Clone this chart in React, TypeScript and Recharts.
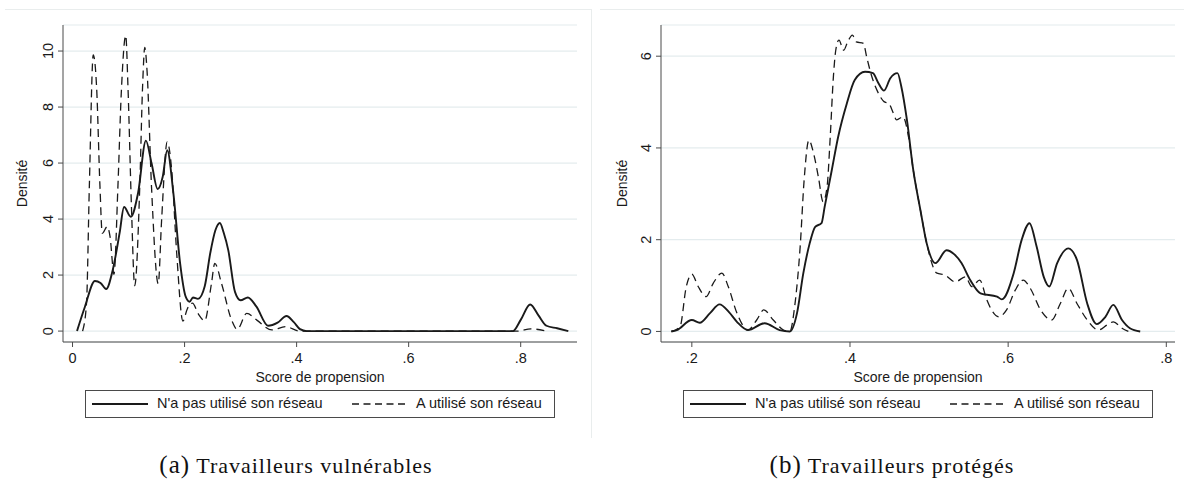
import { CartesianGrid, Line, LineChart, XAxis, YAxis } from 'recharts';

// (a) Travailleurs vulnérables
const vulnNonX = [0.008, 0.022, 0.04, 0.05, 0.06, 0.072, 0.084, 0.092, 0.104, 0.117, 0.131, 0.141, 0.152, 0.161, 0.169, 0.18, 0.192, 0.202, 0.209, 0.215, 0.224, 0.236, 0.246, 0.255, 0.263, 0.27, 0.278, 0.29, 0.3, 0.313, 0.328, 0.349, 0.366, 0.382, 0.395, 0.406, 0.418, 0.6, 0.786, 0.8, 0.817, 0.832, 0.846, 0.865, 0.885];
const vulnNonY = [0, 0.86, 1.79, 1.72, 1.5, 2.2, 3.5, 4.43, 4.08, 4.93, 6.8, 6.0, 5.07, 5.51, 6.46, 4.93, 2.43, 1.23, 1.05, 1.2, 1.15, 1.6, 2.8, 3.6, 3.86, 3.5, 2.89, 1.4, 1.1, 1.2, 0.88, 0.19, 0.3, 0.54, 0.32, 0.07, 0, 0, 0, 0.4, 0.95, 0.55, 0.19, 0.1, 0];
const vulnUsedX = [0.018, 0.025, 0.03, 0.037, 0.043, 0.049, 0.053, 0.062, 0.067, 0.074, 0.081, 0.087, 0.095, 0.099, 0.105, 0.111, 0.12, 0.125, 0.129, 0.133, 0.141, 0.153, 0.159, 0.169, 0.177, 0.186, 0.197, 0.205, 0.214, 0.225, 0.236, 0.248, 0.254, 0.266, 0.284, 0.294, 0.311, 0.329, 0.356, 0.38, 0.406, 0.6, 0.795, 0.818, 0.845];
const vulnUsedY = [0, 1.0, 5.15, 9.86, 8.7, 5.15, 3.49, 3.73, 3.37, 2.03, 5.15, 8.49, 10.55, 8.7, 4.56, 1.62, 5.15, 8.7, 10.13, 9.3, 5.15, 1.69, 3.96, 6.76, 5.75, 2.77, 0.36, 0.8, 1.0, 0.6, 0.37, 1.7, 2.42, 1.7, 0.39, 0.06, 0.63, 0.39, 0.04, 0.16, 0, 0, 0, 0.08, 0];

// (b) Travailleurs protégés
const protNonX = [0.174, 0.181, 0.2, 0.21, 0.223, 0.235, 0.247, 0.257, 0.271, 0.292, 0.311, 0.324, 0.333, 0.341, 0.349, 0.356, 0.364, 0.368, 0.377, 0.385, 0.396, 0.406, 0.419, 0.429, 0.436, 0.443, 0.451, 0.46, 0.465, 0.472, 0.48, 0.489, 0.497, 0.508, 0.522, 0.532, 0.541, 0.552, 0.565, 0.586, 0.592, 0.607, 0.617, 0.627, 0.636, 0.645, 0.652, 0.662, 0.676, 0.687, 0.7, 0.712, 0.723, 0.733, 0.744, 0.754, 0.767];
const protNonY = [0, 0.03, 0.25, 0.19, 0.4, 0.59, 0.42, 0.21, 0.03, 0.18, 0.03, 0, 0.4, 1.27, 1.92, 2.28, 2.36, 2.72, 3.52, 4.24, 4.97, 5.48, 5.66, 5.63, 5.41, 5.25, 5.52, 5.63, 5.33, 4.61, 3.52, 2.65, 1.92, 1.49, 1.77, 1.68, 1.49, 1.12, 0.83, 0.76, 0.7, 1.27, 1.99, 2.36, 1.85, 1.19, 0.98, 1.49, 1.81, 1.56, 0.61, 0.16, 0.32, 0.58, 0.25, 0.07, 0];
const protUsedX = [0.174, 0.185, 0.193, 0.2, 0.208, 0.218, 0.227, 0.238, 0.246, 0.257, 0.271, 0.282, 0.291, 0.303, 0.316, 0.324, 0.33, 0.337, 0.342, 0.348, 0.354, 0.36, 0.366, 0.371, 0.375, 0.379, 0.382, 0.386, 0.392, 0.397, 0.403, 0.408, 0.417, 0.421, 0.427, 0.436, 0.443, 0.449, 0.455, 0.459, 0.467, 0.474, 0.48, 0.489, 0.497, 0.51, 0.52, 0.533, 0.546, 0.554, 0.564, 0.573, 0.579, 0.588, 0.598, 0.609, 0.619, 0.628, 0.641, 0.655, 0.666, 0.676, 0.687, 0.7, 0.714, 0.725, 0.733, 0.744, 0.752];
const protUsedY = [0, 0.1, 0.98, 1.25, 0.98, 0.76, 1.05, 1.27, 0.98, 0.4, 0.03, 0.25, 0.47, 0.25, 0.03, 0, 0.54, 1.85, 3.3, 4.17, 3.88, 3.37, 2.83, 3.15, 4.24, 5.55, 6.13, 6.35, 6.13, 6.31, 6.46, 6.31, 6.28, 5.99, 5.59, 5.19, 5.01, 4.97, 4.75, 4.61, 4.68, 4.24, 3.52, 2.65, 1.92, 1.27, 1.23, 1.08, 1.19, 0.98, 1.12, 0.69, 0.47, 0.32, 0.47, 0.9, 1.12, 0.94, 0.47, 0.25, 0.61, 0.94, 0.61, 0.25, 0.03, 0.14, 0.21, 0.07, 0];

const vulnXTicks = [0, 0.2, 0.4, 0.6, 0.8];
const vulnYTicks = [0, 2, 4, 6, 8, 10];
const protXTicks = [0.2, 0.4, 0.6, 0.8];
const protYTicks = [0, 2, 4, 6];

const seriesNames = ["N'a pas utilisé son réseau", 'A utilisé son réseau'];

const zip = (xs: number[], ys: number[]) => xs.map((x, i) => ({ x, y: ys[i] }));

const SANS = '"Liberation Sans", Arial, sans-serif';
const INK = '#1a1a1a';
const AXIS = '#4a4a4a';

const fmtX = (v: number) => (v === 0 ? '0' : String(v).replace(/^0/, ''));

const YTick = (props: any) => {
	const { x, y, payload } = props;
	const bx = x - 3;
	return (
		<text x={bx} y={y} transform={`rotate(-90 ${bx} ${y})`} textAnchor='middle' fontSize={14.5} fill={INK}>
			{payload.value}
		</text>
	);
};

function LegendBox({ left }: { left: number }) {
	return (
		<div
			style={{
				position: 'absolute',
				left,
				top: 390,
				width: 468,
				height: 26,
				border: `1px solid ${AXIS}`,
				fontFamily: SANS,
				fontSize: 14.5,
				color: INK,
			}}
		>
			<svg style={{ position: 'absolute', left: 6, top: 0 }} width={56} height={26}>
				<line x1={0} y1={13} x2={56} y2={13} stroke={INK} strokeWidth={1.8} />
			</svg>
			<span style={{ position: 'absolute', left: 71, top: 4, whiteSpace: 'nowrap' }}>{seriesNames[0]}</span>
			<svg style={{ position: 'absolute', left: 266, top: 0 }} width={56} height={26}>
				<line x1={0} y1={13} x2={56} y2={13} stroke={INK} strokeWidth={1.4} strokeDasharray='7 4.5' />
			</svg>
			<span style={{ position: 'absolute', left: 330, top: 4, whiteSpace: 'nowrap' }}>{seriesNames[1]}</span>
		</div>
	);
}

type PanelProps = {
	left: number;
	width: number;
	marginLeft: number;
	marginRight: number;
	nonUsers: { x: number; y: number }[];
	users: { x: number; y: number }[];
	xDomain: [number, number];
	yDomain: [number, number];
	xTicks: number[];
	yTicks: number[];
	labelOffset: number;
	legendLeft: number;
	letter: string;
	caption: string;
	border: boolean;
};

function Panel(p: PanelProps) {
	return (
		<div style={{ position: 'absolute', left: p.left, top: 0, width: p.width, height: 484 }}>
			<div
				style={{
					position: 'absolute',
					left: p.border ? 5 : 0,
					top: 9,
					width: p.border ? p.width - 6 : p.width + 10,
					height: 428,
					borderTop: '1px solid #e9eded',
					borderRight: p.border ? '1px solid #e9eded' : 'none',
				}}
			/>
			<div style={{ position: 'absolute', left: 0, top: 0 }}>
				<LineChart
					width={p.width}
					height={440}
					margin={{ top: 25, right: p.marginRight, bottom: 68, left: p.marginLeft }}
				>
					<CartesianGrid vertical={false} stroke='#e4ecee' strokeWidth={1.2} />
					<XAxis
						dataKey='x'
						type='number'
						domain={p.xDomain}
						allowDataOverflow
						ticks={p.xTicks}
						tickFormatter={fmtX}
						tickSize={5}
						tickMargin={6}
						height={30}
						stroke={AXIS}
						tick={{ fontSize: 14.5, fill: INK }}
						label={{ value: 'Score de propension', position: 'bottom', offset: 0, fontSize: 14, fill: INK }}
					/>
					<YAxis
						type='number'
						domain={p.yDomain}
						allowDataOverflow
						ticks={p.yTicks}
						tickSize={5}
						width={45}
						stroke={AXIS}
						tick={<YTick />}
						label={{
							value: 'Densité',
							angle: -90,
							position: 'insideLeft',
							offset: p.labelOffset,
							fontSize: 14,
							fill: INK,
							style: { textAnchor: 'middle' },
						}}
					/>
					<Line
						data={p.nonUsers}
						dataKey='y'
						name={seriesNames[0]}
						type='monotone'
						stroke={INK}
						strokeWidth={1.9}
						dot={false}
						isAnimationActive={false}
					/>
					<Line
						data={p.users}
						dataKey='y'
						name={seriesNames[1]}
						type='monotone'
						stroke={INK}
						strokeWidth={1.3}
						strokeDasharray='8 5'
						dot={false}
						isAnimationActive={false}
					/>
				</LineChart>
			</div>
			<LegendBox left={p.legendLeft} />
			<div
				style={{
					position: 'absolute',
					left: 0,
					top: 450,
					width: p.width,
					textAlign: 'center',
					fontFamily: '"Liberation Serif", "Times New Roman", serif',
					fontSize: 22,
					letterSpacing: 1,
					color: '#111',
					lineHeight: '30px',
				}}
			>
				<span style={{ fontSize: 25 }}>{p.letter}</span> {p.caption}
			</div>
		</div>
	);
}

export default function App() {
	return (
		<div
			style={{
				position: 'absolute',
				left: 0,
				top: 0,
				width: 1184,
				height: 484,
				background: '#fff',
				overflow: 'hidden',
				fontFamily: SANS,
			}}
		>
			<Panel
				left={0}
				width={592}
				marginLeft={18}
				marginRight={15}
				nonUsers={zip(vulnNonX, vulnNonY)}
				users={zip(vulnUsedX, vulnUsedY)}
				xDomain={[-0.017, 0.9005]}
				yDomain={[-0.39, 10.93]}
				xTicks={vulnXTicks}
				yTicks={vulnYTicks}
				labelOffset={4}
				legendLeft={85}
				letter='(a)'
				caption='Travailleurs vulnérables'
				border
			/>
			<Panel
				left={600}
				width={584}
				marginLeft={16}
				marginRight={9}
				nonUsers={zip(protNonX, protNonY)}
				users={zip(protUsedX, protUsedY)}
				xDomain={[0.161, 0.811]}
				yDomain={[-0.23, 6.68]}
				xTicks={protXTicks}
				yTicks={protYTicks}
				labelOffset={6}
				legendLeft={83}
				letter='(b)'
				caption='Travailleurs protégés'
				border={false}
			/>
		</div>
	);
}
